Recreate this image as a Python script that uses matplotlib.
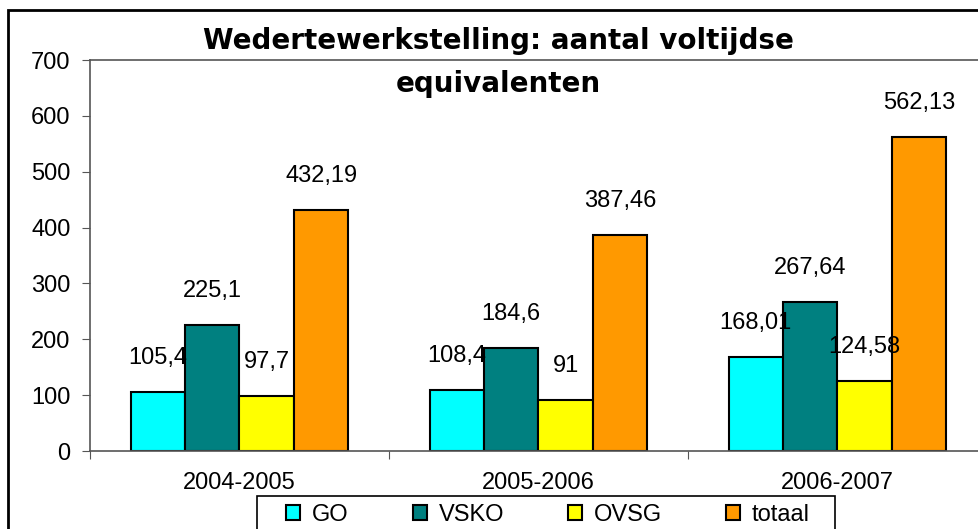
import numpy as np
import matplotlib.pyplot as plt
from matplotlib.patches import Rectangle

periods = ["2004-2005", "2005-2006", "2006-2007"]
series_names = ["GO", "VSKO", "OVSG", "totaal"]
go = [105.4, 108.4, 168.01]
vsko = [225.1, 184.6, 267.64]
ovsg = [97.7, 91, 124.58]
totaal = [432.19, 387.46, 562.13]
colors = ["#00FFFF", "#008080", "#FFFF00", "#FF9900"]


def fmt(v):
    s = ("%.2f" % v).rstrip("0").rstrip(".")
    return s.replace(".", ",")


def main():
    plt.rcParams['font.family'] = ['Liberation Sans', 'DejaVu Sans']
    fig = plt.figure(figsize=(9.79, 5.29), dpi=100)
    W, H = 979, 529
    ax = fig.add_axes([90 / W, 1 - 451 / H, 897 / W, 391 / H])

    # outer chart frame
    fig.patches.append(Rectangle((8 / W, -0.1), 1.2, 1 - 10 / H + 0.1,
                                 transform=fig.transFigure, fill=False,
                                 edgecolor="black", linewidth=2))

    x = np.arange(len(periods))
    w = 0.182
    data = [go, vsko, ovsg, totaal]
    for i, (name, vals, c) in enumerate(zip(series_names, data, colors)):
        pos = x + (i - 1.5) * w
        ax.bar(pos, vals, w, color=c, edgecolor="black", linewidth=1.5, label=name)
        for px, v in zip(pos, vals):
            ax.text(px, v + 34 / 391 * 700, fmt(v), ha="center", va="center", fontsize=17)

    ax.set_xlim(-0.5, 2.5)
    ax.set_ylim(0, 700)
    ax.set_yticks(np.arange(0, 701, 100))
    ax.set_xticks([-0.5, 0.5, 1.5, 2.5])
    ax.set_xticklabels([])
    ax.set_xticks(x, minor=True)
    ax.set_xticklabels(periods, minor=True)
    ax.tick_params(axis="x", which="minor", length=0, pad=15, labelsize=17)
    ax.tick_params(axis="x", which="major", length=6, color="#555555")
    ax.tick_params(axis="y", length=6, pad=8, labelsize=17, color="#555555")
    for s in ["left", "bottom", "top"]:
        ax.spines[s].set_color("#555555")
        ax.spines[s].set_linewidth(1.2)
    ax.spines["right"].set_visible(False)

    fig.text(498 / W, 1 - 49 / H, "Wedertewerkstelling: aantal voltijdse",
             ha="center", va="baseline", fontsize=20, fontweight="bold",
             family="DejaVu Sans")
    fig.text(498 / W, 1 - 92 / H, "equivalenten",
             ha="center", va="baseline", fontsize=20, fontweight="bold",
             family="DejaVu Sans")

    # legend frame drawn separately so the box can run off the bottom edge
    fig.patches.append(Rectangle((257 / W, -0.1), (835 - 257) / W, 1 - 496 / H + 0.1,
                                 transform=fig.transFigure, fill=False,
                                 edgecolor="black", linewidth=1.2))
    fig.legend(loc="center", bbox_to_anchor=(548 / W, 1 - 515 / H),
               ncol=4, fontsize=17, frameon=False,
               handlelength=0.6, handleheight=0.6, columnspacing=2.7,
               handletextpad=0.5, borderpad=0, borderaxespad=0)

    fig.savefig("out.png", dpi=100)


if __name__ == '__main__':
    main()
